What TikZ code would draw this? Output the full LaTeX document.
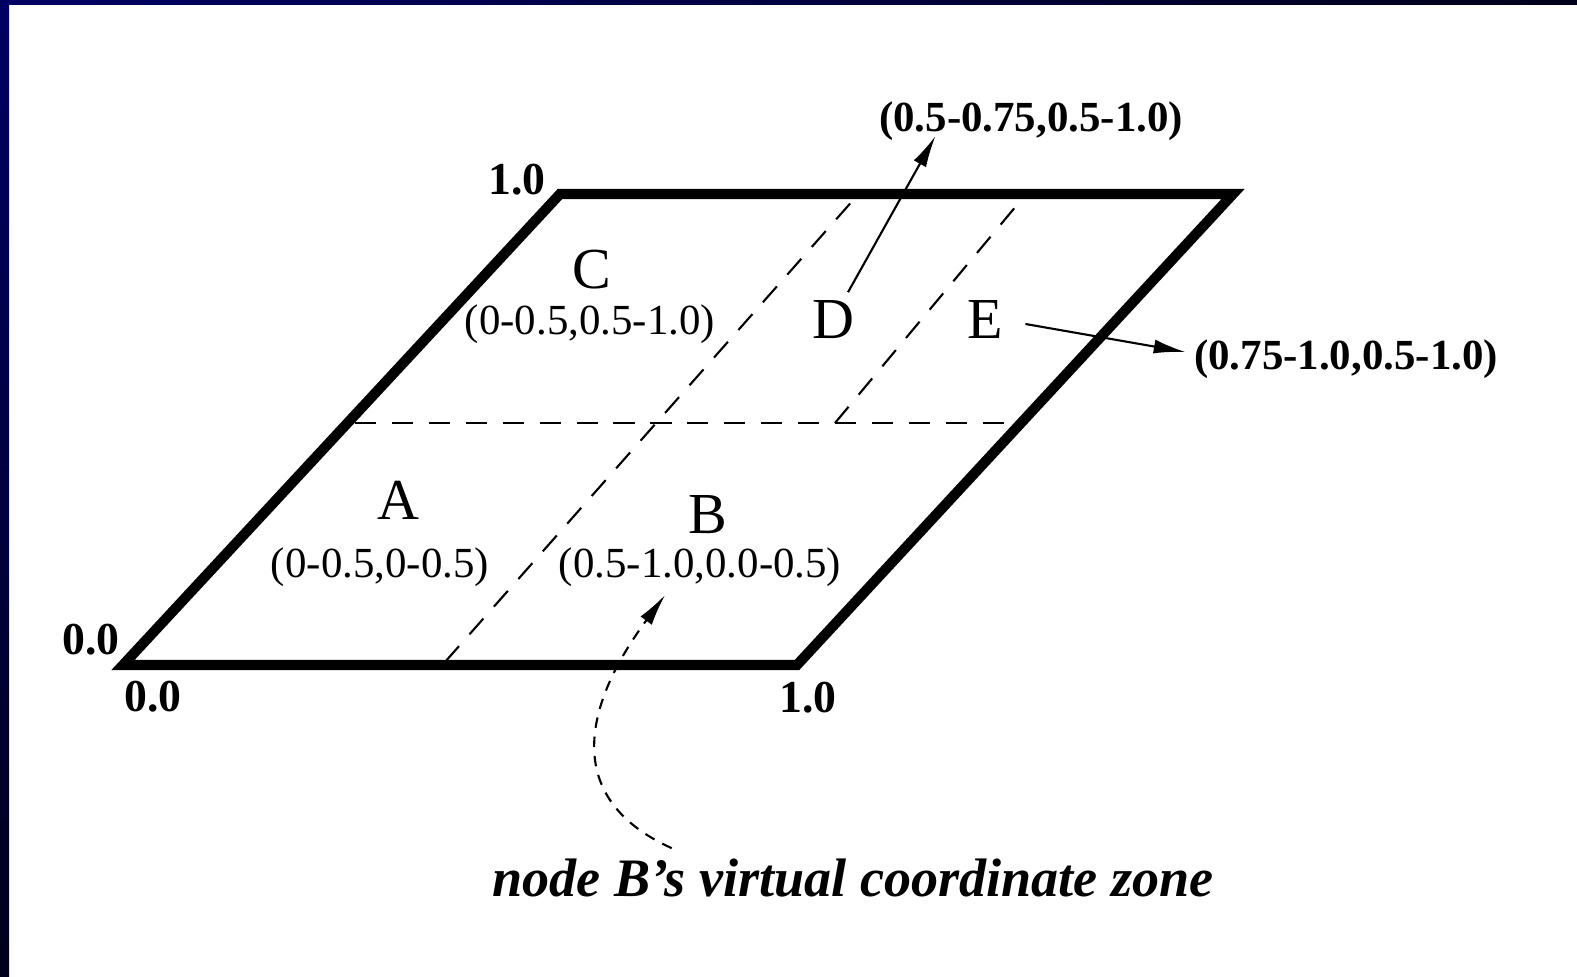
\documentclass[tikz,border=0pt]{standalone}
\usepackage{fontspec}
\setmainfont{Liberation Serif}
\usetikzlibrary{arrows.meta, calc}
\definecolor{frameblue}{RGB}{0,0,100}
\definecolor{framedark}{RGB}{0,0,28}

\begin{document}
\begin{tikzpicture}[x=0.01cm, y=-0.01cm,
  rim/.style={line width=2.9pt, line join=miter},
  zoneline/.style={line width=0.6pt, dash pattern=on 6pt off 4.5pt},
  zone/.style={font=\fontsize{16.5}{18}\selectfont, inner sep=0pt},
  zonerange/.style={font=\fontsize{12.2}{14}\selectfont, inner sep=0pt},
  outrange/.style={font=\fontsize{12.2}{14}\selectfont\bfseries, inner sep=0pt},
  ticklabel/.style={font=\fontsize{13}{15}\selectfont\bfseries, inner sep=0pt},
  pointer/.style={-{Latex[length=9pt,width=4pt]}, line width=0.6pt}]
\useasboundingbox (0,0) rectangle (1577,977);
% frame of the slide
\shade[left color=frameblue, right color=framedark] (0,0) rectangle (1577,5);
\shade[top color=frameblue, bottom color=framedark] (0,0) rectangle (9,977);

% corners of the unit square
\coordinate (o) at (123,665);
\coordinate (xone) at (797,665);
\coordinate (xyone) at (1233,194);
\coordinate (yone) at (560,194);

% zone borders
\draw[zoneline] (355,423) -- (1015,423);
\draw[zoneline] (445,662) -- (855,198);
\draw[zoneline] (835,423) -- (1022,199);

\draw[rim] (o) -- (xone) -- (xyone) -- (yone) -- cycle;

\node[ticklabel] (tyone) at (517,180) {1.0};
\node[ticklabel] (toy) at (91,640) {0.0};
\node[ticklabel] (tox) at (153,697) {0.0};
\node[ticklabel] (txone) at (808,698) {1.0};

% zones
\node[zone] (A) at (398,500) {A};
\node[zonerange] (lblA) at (380,567) {(0-0.5,0-0.5)};
\node[zone] (B) at (708,515) {B};
\node[zonerange] (lblB) at (700,567) {(0.5-1.0,0.0-0.5)};
\node[zone] (C) at (592,270) {C};
\node[zonerange] (lblC) at (590,324) {(0-0.5,0.5-1.0)};
\node[zone] (D) at (833,320) {D};
\node[zone] (E) at (985,320) {E};

\node[outrange] (lblD) at (1031,121) {(0.5-0.75,0.5-1.0)};
\node[outrange] (lblE) at (1346,359) {(0.75-1.0,0.5-1.0)};
\node[font=\fontsize{15.4}{17}\selectfont\bfseries\itshape, inner sep=0pt] (note) at (853,878) {node B's virtual coordinate zone};

\draw[pointer] ($(D.north)+(15,-8)$) -- ($(lblD.south west)+(57,-5)$);
\draw[pointer] ($(E.east)+(22,4)$) -- ($(lblE.west)+(-8,-7)$);
\draw[pointer, dash pattern=on 3pt off 2.5pt] ($(note.north west)+(180,-10)$)
  .. controls (565,800) and (580,710) .. ($(lblB.south)+(-35,8)$);
\end{tikzpicture}
\end{document}
